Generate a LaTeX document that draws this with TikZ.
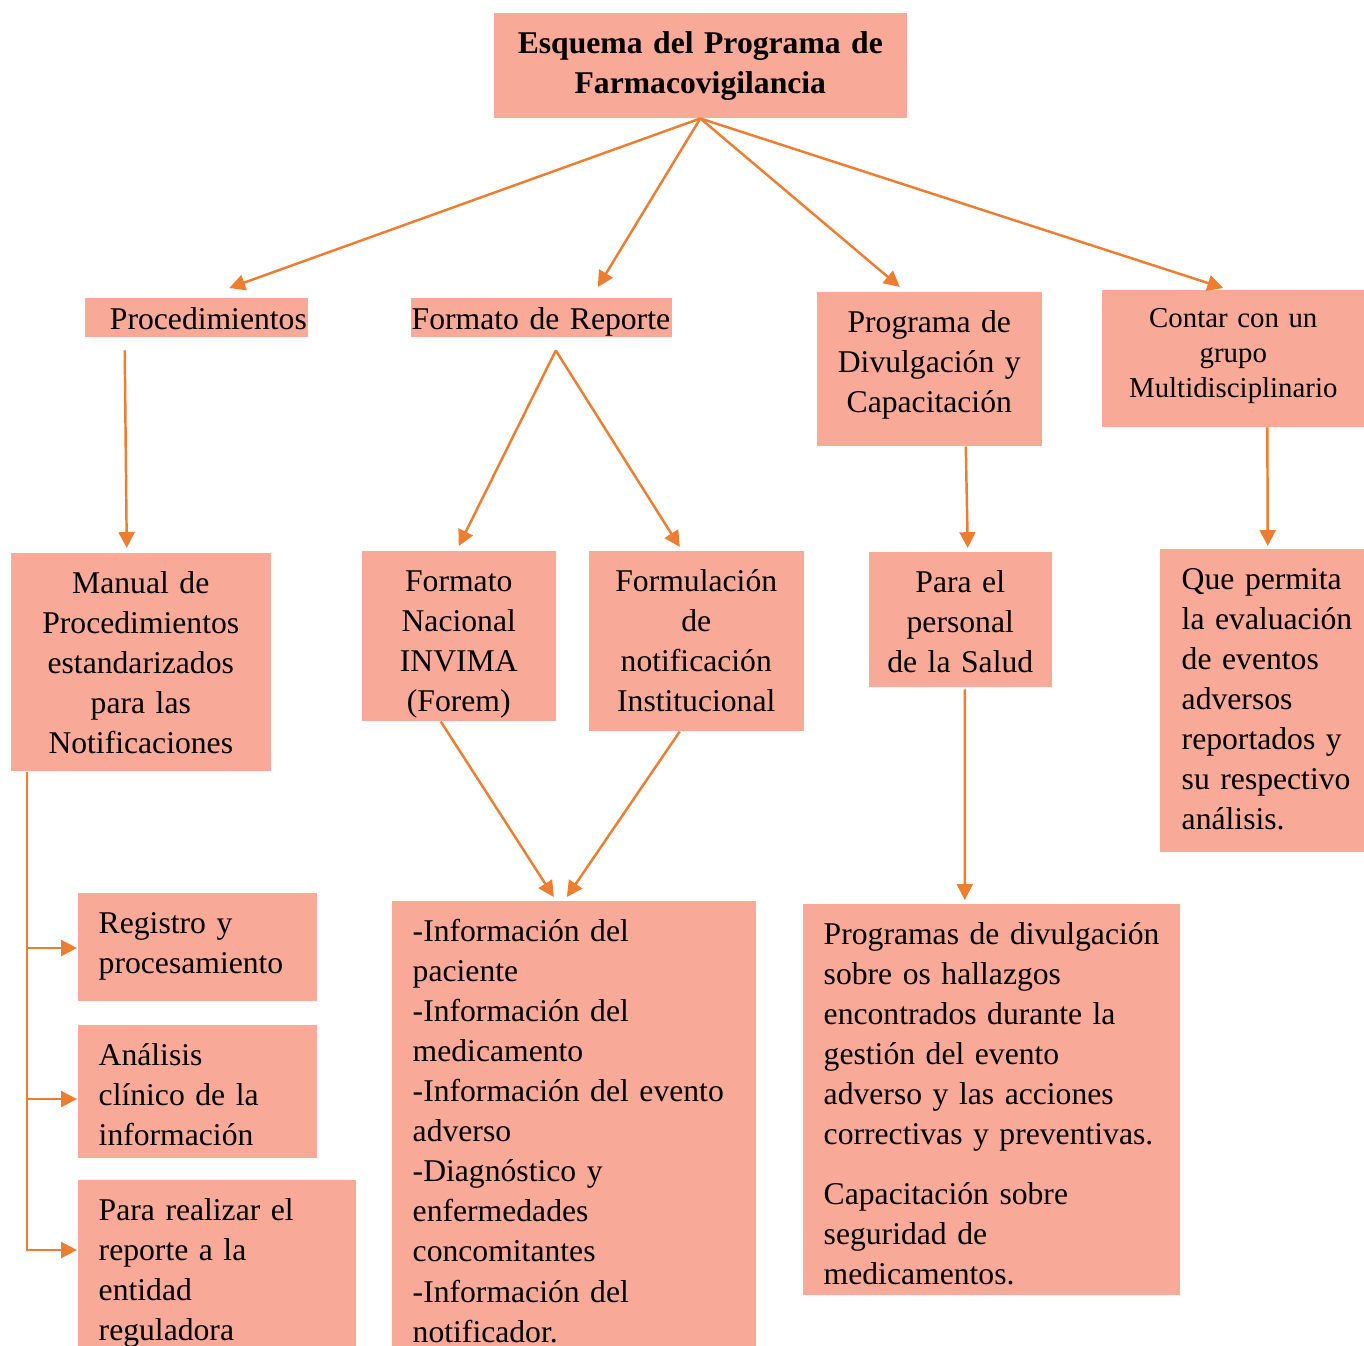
\documentclass[tikz,border=0pt]{standalone}
\usepackage{fontspec}
\setmainfont{Liberation Serif}
\usetikzlibrary{arrows.meta}
\definecolor{rosa}{HTML}{F9A997}
\definecolor{naranja}{HTML}{ED7D31}
\begin{document}
\begin{tikzpicture}[x=0.01cm, y=-0.01cm,
    caja/.style={fill=rosa, anchor=north west, inner ysep=0pt, text height=0.405cm,
        font=\fontsize{9}{11.4}\selectfont},
    flecha/.style={draw=naranja, line width=0.7pt,
        -{Triangle[length=4.5pt, width=4.5pt]}}]
    \useasboundingbox (0, 0) rectangle (1364, 1346);
    % primer nivel
    \node[caja, minimum width=4.13cm, text depth=0.645cm, inner xsep=0.05cm,
        text width=4.03cm, align=center, font=\fontsize{9}{11.4}\selectfont\bfseries]
        (titulo) at (493, 12) {Esquema del Programa de\\Farmacovigilancia};
    \node[caja, minimum width=2.23cm, text height=0.315cm, text depth=0.075cm, inner xsep=0.01cm,
        text width=2.21cm, align=right] (proc) at (84, 297) {Procedimientos};
    \node[caja, minimum width=2.61cm, text height=0.315cm, text depth=0.075cm, inner xsep=0.01cm,
        text width=2.59cm, align=left] (formato) at (410, 297) {Formato de Reporte};
    \node[caja, minimum width=2.25cm, text depth=1.135cm, inner xsep=0.05cm,
        text width=2.15cm, align=center] (divul) at (816, 291)
        {Programa de\\Divulgación y\\Capacitación};
    \node[caja, minimum width=2.63cm, text height=0.375cm, text depth=0.995cm, inner xsep=0.05cm,
        text width=2.53cm, align=center, font=\fontsize{8.2}{10}\selectfont]
        (contar) at (1101, 289) {Contar con un\\grupo\\Multidisciplinario};
    % segundo nivel
    \node[caja, minimum width=2.6cm, text depth=1.775cm, inner xsep=0.05cm,
        text width=2.5cm, align=center] (manual) at (10, 552)
        {Manual de\\Procedimientos\\estandarizados\\para las\\Notificaciones};
    \node[caja, minimum width=1.94cm, text depth=1.295cm, inner xsep=0.05cm,
        text width=1.84cm, align=center] (nacional) at (361, 550)
        {Formato\\Nacional\\INVIMA\\(Forem)};
    \node[caja, minimum width=2.15cm, text depth=1.395cm, inner xsep=0.05cm,
        text width=2.05cm, align=center] (formul) at (588, 550)
        {Formulación\\de\\notificación\\Institucional};
    \node[caja, minimum width=1.83cm, text depth=0.945cm, inner xsep=0.05cm,
        text width=1.73cm, align=center] (personal) at (868, 551)
        {Para el\\personal\\de la Salud};
    \node[caja, minimum width=2.21cm, text depth=2.625cm, inner xsep=0.22cm,
        text width=1.77cm, align=left] (permita) at (1159, 548)
        {Que permita\\la evaluación\\de eventos\\adversos\\reportados y\\su respectivo\\análisis.};
    % tercer nivel
    \node[caja, minimum width=2.39cm, text depth=0.675cm, inner xsep=0.21cm,
        text width=1.97cm, align=left] (registro) at (77, 892)
        {Registro y\\procesamiento};
    \node[caja, minimum width=2.39cm, text depth=0.925cm, inner xsep=0.21cm,
        text width=1.97cm, align=left] (analisis) at (77, 1024)
        {Análisis\\clínico de la\\información};
    \node[caja, minimum width=2.78cm, text depth=1.265cm, inner xsep=0.21cm,
        text width=2.36cm, align=left] (realizar) at (77, 1179)
        {Para realizar el\\reporte a la\\entidad\\reguladora};
    \node[caja, minimum width=3.64cm, text depth=4.055cm, inner xsep=0.21cm,
        text width=3.22cm, align=left] (info) at (391, 900)
        {-Información del\\paciente\\-Información del\\medicamento\\-Información del evento\\adverso\\-Diagnóstico y\\enfermedades\\concomitantes\\-Información del\\notificador.};
    \node[caja, minimum width=3.77cm, text depth=3.505cm, inner xsep=0.21cm,
        text width=3.35cm, align=left] (divulga) at (802, 903)
        {\mbox{Programas de divulgación}\\sobre os hallazgos\\encontrados durante la\\gestión del evento\\adverso y las acciones\\correctivas y preventivas.\\[5.7pt]Capacitación sobre\\seguridad de\\medicamentos.};
    % flechas
    \draw[flecha] (titulo.south) -- ([xshift=0.33cm, yshift=0.09cm]proc.north);
    \draw[flecha] (titulo.south) -- ([xshift=0.565cm, yshift=0.1cm]formato.north);
    \draw[flecha] (titulo.south) -- ([xshift=-0.295cm, yshift=0.04cm]divul.north);
    \draw[flecha] (titulo.south) -- ([xshift=-0.1cm, yshift=0.01cm]contar.north);
    \draw[flecha] ([xshift=-0.715cm, yshift=-0.13cm]proc.south) -- ([xshift=-0.14cm, yshift=0.04cm]manual.north);
    \draw[flecha] ([xshift=0.145cm, yshift=-0.13cm]formato.south) -- ([yshift=0.04cm]nacional.north);
    \draw[flecha] ([xshift=0.145cm, yshift=-0.13cm]formato.south) -- ([xshift=-0.165cm, yshift=0.03cm]formul.north);
    \draw[flecha] ([xshift=0.365cm]divul.south) -- ([xshift=0.075cm, yshift=0.03cm]personal.north);
    \draw[flecha] ([xshift=0.34cm]contar.south) -- ([xshift=-0.025cm, yshift=0.02cm]permita.north);
    \draw[flecha] ([xshift=-0.18cm]nacional.south) -- ([xshift=-0.2cm, yshift=0.03cm]info.north);
    \draw[flecha] ([xshift=-0.165cm]formul.south) -- ([xshift=-0.07cm, yshift=0.03cm]info.north);
    \draw[flecha] ([xshift=0.045cm, yshift=-0.02cm]personal.south) -- ([xshift=-0.265cm, yshift=0.03cm]divulga.north);
    \coordinate (tronco) at ([xshift=0.17cm]manual.south west);
    \draw[flecha] (tronco) |- ([yshift=-0.56cm]registro.north west);
    \draw[flecha] (tronco) |- ([yshift=-0.75cm]analisis.north west);
    \draw[flecha] (tronco) |- ([yshift=-0.71cm]realizar.north west);
\end{tikzpicture}
\end{document}
